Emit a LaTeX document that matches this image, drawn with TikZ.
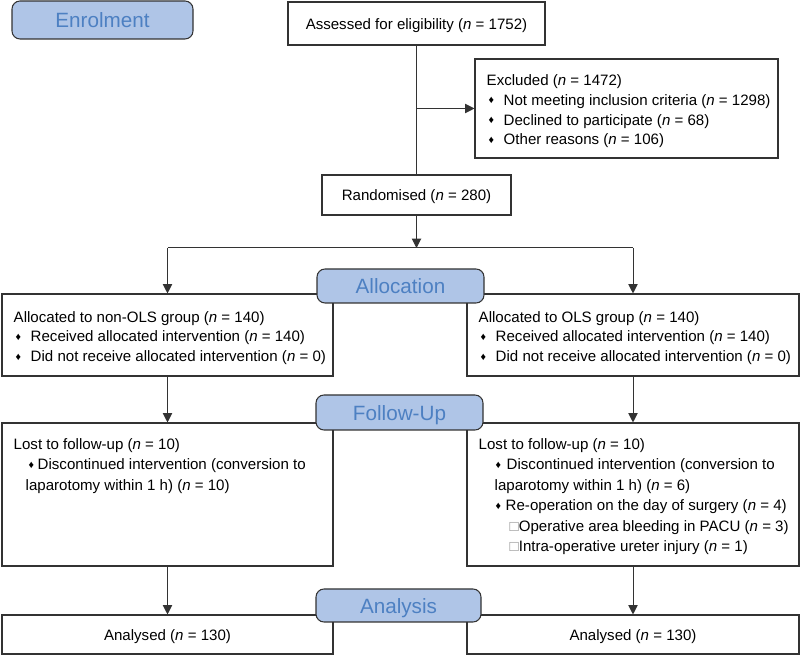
\documentclass[tikz,border=0pt]{standalone}
\usepackage{fontspec}
\setmainfont{Liberation Sans}
\usetikzlibrary{arrows.meta,positioning}
\definecolor{stagefill}{HTML}{AFC5E7}
\definecolor{stagetext}{HTML}{4D80C2}
\definecolor{linegray}{HTML}{333333}
\newcommand\nn{\textit{n}}
\newcommand\dia{\raisebox{1.2pt}{\fontsize{8}{8}\selectfont ♦}}
\newcommand\itm[1]{\makebox[12.75pt][l]{\hspace{1.5pt}\dia}#1}
\newcommand\sqr{{\color{black!45}□}}
\tikzset{
  box/.style={draw=linegray,line width=0.8pt,fill=white,inner sep=0pt,text height=10pt,text depth=1.2pt,
    font=\fontsize{11.3}{14.8}\selectfont},
  txt/.style={anchor=west,align=left,inner sep=0pt,font=\fontsize{11.3}{14.8}\selectfont},
  stage/.style={draw=black!80,line width=0.8pt,fill=stagefill,rounded corners=6pt,text=stagetext,
    text height=12pt,text depth=0pt,font=\fontsize{15.5}{17}\selectfont,
    minimum width=125.25pt,minimum height=25.5pt,inner sep=0pt},
  link/.style={draw=linegray,line width=0.75pt},
  arr/.style={link,-{Triangle[width=7pt,length=7pt]}}
}
\begin{document}
\begin{tikzpicture}[x=0.75pt,y=-0.75pt]
	\useasboundingbox (0,0) rectangle (800,655);
	\node[box,minimum width=192.75pt,minimum height=32.25pt] (assess) at (416.5,23.5) {Assessed for eligibility (\nn{} = 1752)};
	\node[box,minimum width=227.25pt,minimum height=74.25pt] (excl) at (626.5,108.5) {};
	\node[txt] (excltxt) at ([xshift=9pt,yshift=-2.25pt]excl.west) {Excluded (\nn{} = 1472)\\
		\itm{Not meeting inclusion criteria (\nn{} = 1298)}\\
		\itm{Declined to participate (\nn{} = 68)}\\
		\itm{Other reasons (\nn{} = 106)}};
	\node[box,minimum width=141.75pt,minimum height=30pt] (rand) at (416.5,195) {Randomised (\nn{} = 280)};
	\coordinate (split) at (416.5,248);
	\node[box,minimum width=248.25pt,minimum height=61.5pt] (allocL) at (167.5,335) {};
	\node[txt] (allocLtxt) at ([xshift=9pt,yshift=-2.25pt]allocL.west) {Allocated to non-OLS group (\nn{} = 140)\\
		\itm{Received allocated intervention (\nn{} = 140)}\\
		\itm{Did not receive allocated intervention (\nn{} = 0)}};
	\node[box,minimum width=249pt,minimum height=61.5pt] (allocR) at (633,335) {};
	\node[txt] (allocRtxt) at ([xshift=9pt,yshift=-2.25pt]allocR.west) {Allocated to OLS group (\nn{} = 140)\\
		\itm{Received allocated intervention (\nn{} = 140)}\\
		\itm{Did not receive allocated intervention (\nn{} = 0)}};
	\node[box,minimum width=248.25pt,minimum height=107.25pt] (followL) at (167.5,494.5) {};
	\node[txt,anchor=north west,font=\fontsize{11.3}{15.4}\selectfont] (followLtxt) at ([xshift=9pt,yshift=-11.75pt]followL.north west) {Lost to follow-up (\nn{} = 10)\\
		\hspace*{11.25pt}\makebox[6.75pt][l]{\dia}Discontinued intervention (conversion to\\
		\hspace*{9pt}laparotomy within 1 h) (\nn{} = 10)};
	\node[box,minimum width=249pt,minimum height=107.25pt] (followR) at (633,494.5) {};
	\node[txt,anchor=north west,font=\fontsize{11.3}{15.4}\selectfont] (followRtxt) at ([xshift=9pt,yshift=-11.75pt]followR.north west) {Lost to follow-up (\nn{} = 10)\\
		\hspace*{12.75pt}\makebox[8.25pt][l]{\dia}Discontinued intervention (conversion to\\
		\hspace*{12pt}laparotomy within 1 h) (\nn{} = 6)\\
		\hspace*{12.75pt}\makebox[7.5pt][l]{\dia}Re-operation on the day of surgery (\nn{} = 4)\\
		\hspace*{23.25pt}\sqr Operative area bleeding in PACU (\nn{} = 3)\\
		\hspace*{23.25pt}\sqr Intra-operative ureter injury (\nn{} = 1)};
	\node[box,minimum width=248.25pt,minimum height=29.25pt] (anaL) at (167.5,634.5) {Analysed (\nn{} = 130)};
	\node[box,minimum width=249pt,minimum height=29.25pt] (anaR) at (633,634.5) {Analysed (\nn{} = 130)};
	\draw[link] (assess) -- (rand);
	\coordinate (tee) at (assess.south |- excl.west);
	\draw[arr] (tee) -- (excl);
	\draw[arr] (rand) -- (split);
	\draw[link] (allocL.north |- split) -- (allocR.north |- split);
	\foreach \s in {L,R} {
		\draw[arr] (alloc\s.north |- split) -- (alloc\s);
		\draw[arr] (alloc\s) -- (follow\s);
		\draw[arr] (follow\s) -- (ana\s);
	}
	\node[stage,minimum width=135.75pt,minimum height=28.5pt] (enrol) at (102.5,20) {Enrolment};
	\node[stage] (alloc) at (400.5,286) {Allocation};
	\node[stage,minimum height=26.25pt] (follow) at (399.5,412.5) {Follow-Up};
	\node[stage,minimum width=123.75pt,minimum height=24.75pt] (ana) at (398.5,605.5) {Analysis};
\end{tikzpicture}
\end{document}
